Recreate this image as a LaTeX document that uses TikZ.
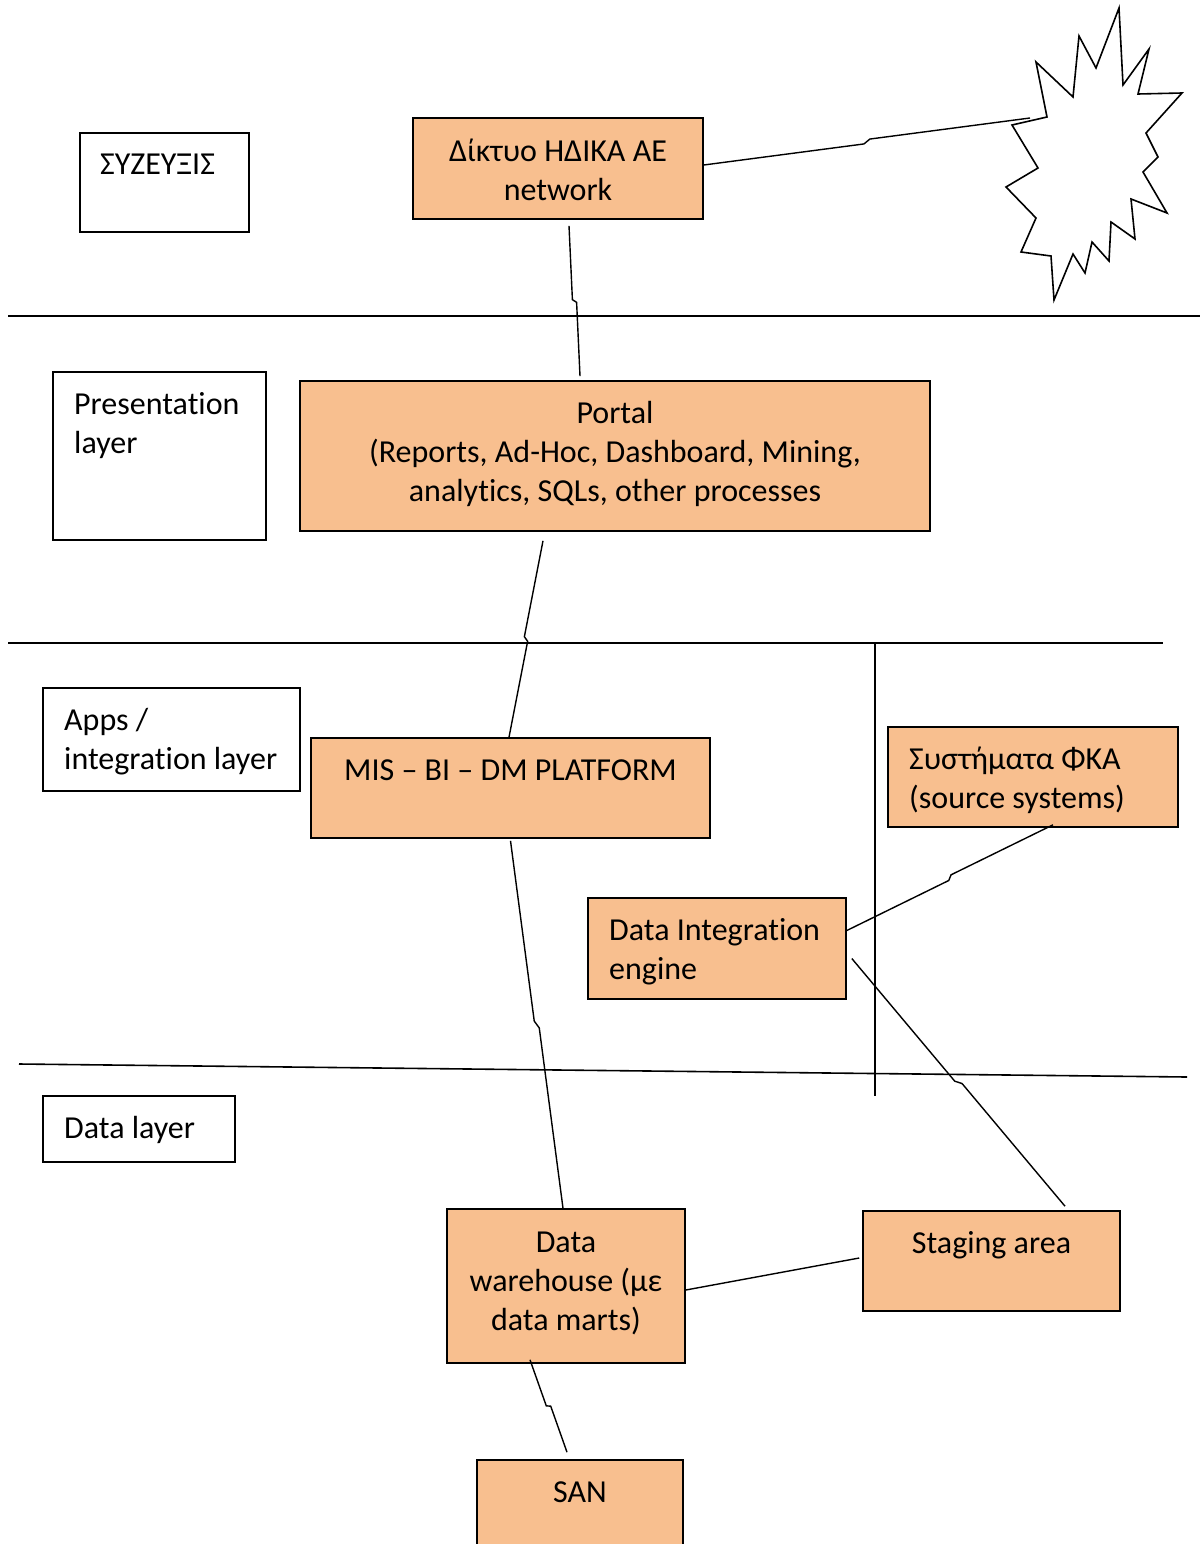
\documentclass[tikz,border=0pt]{standalone}
\usepackage{fontspec}
\setmainfont{Carlito}[Ligatures={NoCommon,NoContextual,NoRare},RawFeature=-calt]
\usetikzlibrary{calc}
\definecolor{peach}{HTML}{F8BF8F}
\tikzset{
  obox/.style={draw=black, fill=peach, line width=1.6pt, inner sep=0pt, rectangle},
  wbox/.style={draw=black, fill=white, line width=1.6pt, inner sep=0pt, rectangle},
  txt/.style={inner sep=0pt, font=\fontsize{32}{39}\selectfont},
  conn/.style={draw=black, line width=1.4pt},
  layer/.style={draw=black, line width=1.6pt},
}
\newcommand{\boltline}[2]{%
  \draw[conn] (#1) -- ($(#1)!.49!(#2)!2pt!-90:(#2)$) -- ($(#1)!.51!(#2)!2pt!90:(#2)$) -- (#2);}
\begin{document}
\begin{tikzpicture}[x=1pt,y=-1pt]
\useasboundingbox[fill=white] (0,0) rectangle (1201,1544);

% layer lines
\draw[layer] (8,316) -- (1200,316);
\draw[layer] (8,643) -- (1163,643);
\draw[layer] (875,643) -- (875,1096);
\draw[layer] (19,1064) -- (1187,1077);

% star
\draw[line width=1.6pt, fill=white, line join=miter]
 (1119,8) -- (1123,85) -- (1149,49) -- (1138,94) -- (1182,93) -- (1146,133)
 -- (1158,157) -- (1143,172) -- (1167,213) -- (1131,199) -- (1135,239)
 -- (1111,222) -- (1109,261) -- (1092,242) -- (1085,273) -- (1073,254)
 -- (1054,300) -- (1051,256) -- (1021,252) -- (1036,218) -- (1006,187)
 -- (1038,168) -- (1012,125) -- (1047,117) -- (1036,62) -- (1073,97)
 -- (1079,36) -- (1096,68) -- cycle;
\coordinate (starpt) at (1030,118);

% white label boxes
\node[wbox, minimum width=169, minimum height=99] (syz) at (164.5,182.5) {};
\node[txt, anchor=base west] at (100,174) {ΣΥΖΕΥΞΙΣ};
\node[wbox, minimum width=213, minimum height=168] (pres) at (159.5,456) {};
\node[txt, anchor=north west, align=left] at (74,386.7) {\strut Presentation\\layer};
\node[wbox, minimum width=257, minimum height=103] (apps) at (171.5,739.5) {};
\node[txt, anchor=north west, align=left] at (64,702.7) {\strut Apps /\\integration layer};
\node[wbox, minimum width=192, minimum height=66] (datal) at (139,1129) {};
\node[txt, anchor=base west] at (64,1138) {Data layer};

% peach boxes
\node[obox, minimum width=290, minimum height=101] (net) at (558,168.5) {};
\node[txt, anchor=north, align=center] at (558,133.7) {\strut Δίκτυο ΗΔΙΚΑ ΑΕ\\network};

\node[obox, minimum width=630, minimum height=150] (portal) at (615,456) {};
\node[txt, anchor=north, align=center] at (615,395.7) {\strut Portal\\(Reports, Ad-Hoc, Dashboard, Mining,\\analytics, SQLs, other processes};

\node[obox, minimum width=399, minimum height=100] (mis) at (510.5,788) {};
\node[txt, anchor=base] at (510.5,780) {MIS – BI – DM PLATFORM};

\node[obox, minimum width=290, minimum height=100] (src) at (1033,777) {};
\node[txt, anchor=north west, align=left] at (909,741.7) {\strut Συστήματα ΦΚΑ\\(source systems)};

\node[obox, minimum width=258, minimum height=101] (die) at (717,948.5) {};
\node[txt, anchor=north west, align=left] at (609,912.7) {\strut Data Integration\\engine};

\node[obox, minimum width=238, minimum height=154] (dw) at (566,1286) {};
\node[txt, anchor=north, align=center] at (566,1224.7) {\strut Data\\warehouse (με\\data marts)};

\node[obox, minimum width=257, minimum height=100] (stg) at (991.5,1261) {};
\node[txt, anchor=base] at (991.5,1253) {Staging area};

\node[obox, minimum width=206, minimum height=110] (san) at (580,1515) {};
\node[txt, anchor=base] at (580,1502) {SAN};

% connectors
\coordinate (c1a) at ([yshift=3.5pt]net.east);
\boltline{c1a}{starpt}
\coordinate (c2a) at ([xshift=11pt,yshift=-6pt]net.south);
\coordinate (c2b) at ([xshift=-35pt,yshift=4pt]portal.north);
\boltline{c2a}{c2b}
\coordinate (c3a) at ([xshift=-72pt,yshift=-9pt]portal.south);
\coordinate (c3b) at ([xshift=-1.5pt]mis.north);
\boltline{c3a}{c3b}
\coordinate (c4a) at ([yshift=-2pt]mis.south);
\coordinate (c4b) at ([xshift=-3pt]dw.north);
\boltline{c4a}{c4b}
\coordinate (c5a) at ([xshift=20pt,yshift=3pt]src.south);
\coordinate (c5b) at ([yshift=18pt]die.east);
\boltline{c5a}{c5b}
\coordinate (c6a) at ([xshift=5pt,yshift=-10pt]die.east);
\coordinate (c6b) at ([xshift=73.5pt,yshift=4pt]stg.north);
\boltline{c6a}{c6b}
\coordinate (c7a) at ([yshift=-4pt]dw.east);
\coordinate (c7b) at ([xshift=-3pt,yshift=3pt]stg.west);
\draw[conn] (c7a) -- (c7b);
\coordinate (c8a) at ([xshift=-36pt,yshift=4pt]dw.south);
\coordinate (c8b) at ([xshift=-13pt,yshift=7pt]san.north);
\boltline{c8a}{c8b}
\end{tikzpicture}
\end{document}
